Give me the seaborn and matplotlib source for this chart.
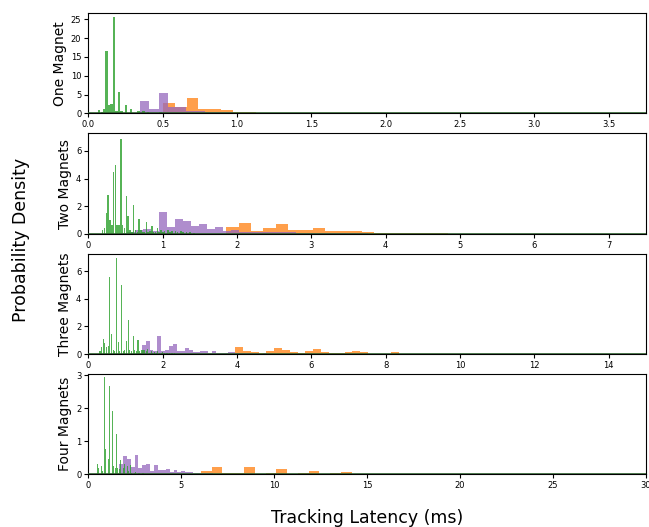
import numpy as np
import pandas as pd
import seaborn as sns
import matplotlib.pyplot as plt

# ---- valores ----
panel_names = ['One Magnet', 'Two Magnets', 'Three Magnets', 'Four Magnets']
x_max = [3.75, 7.5, 15, 30]
y_max = [26.6, 7.27, 7.27, 3.04]
x_ticks = [[0.0, 0.5, 1.0, 1.5, 2.0, 2.5, 3.0, 3.5],
           [0, 1, 2, 3, 4, 5, 6, 7],
           [0, 2, 4, 6, 8, 10, 12, 14],
           [0, 5, 10, 15, 20, 25, 30]]
x_ticklabels = [['0.0', '0.5', '1.0', '1.5', '2.0', '2.5', '3.0', '3.5'],
                ['0', '1', '2', '3', '4', '5', '6', '7'],
                ['0', '2', '4', '6', '8', '10', '12', '14'],
                ['0', '5', '10', '15', '20', '25', '30']]
y_ticks = [[0, 5, 10, 15, 20, 25], [0, 2, 4, 6], [0, 2, 4, 6], [0, 1, 2, 3]]

# orange series: first bin edge, bin width, heights
orange_start = [0.505, 1.856, 3.955, 6.06]
orange_width = [0.078, 0.166, 0.21, 0.58]
orange_h1 = [2.7, 1.6, 4.0, 1.3, 1.3, 0.8, 0.5, 0.5, 0.2, 0.15, 0.1, 0.1, 0.08,
             0.05, 0.05, 0.05, 0.05, 0.2, 0.05, 0.2]
orange_h2 = [0.48, 0.75, 0.2, 0.39, 0.68, 0.24, 0.24, 0.39, 0.2, 0.2, 0.2, 0.1,
             0.07, 0.07, 0.07, 0.07, 0.07, 0.07]
orange_h3 = [0.48, 0.19, 0.12, 0.05, 0.19, 0.46, 0.29, 0.12, 0.05, 0.19, 0.34,
             0.12, 0.05, 0.05, 0.12, 0.2, 0.12, 0.03, 0.03, 0.03, 0.12, 0.03]
orange_h4 = [0.1, 0.23, 0.03, 0.03, 0.23, 0.01, 0.03, 0.16, 0.01, 0.03, 0.1,
             0.01, 0.03, 0.07, 0.01, 0.01, 0.02]

# purple series
purple_start = [0.285, 0.305, 1.335, 1.44]
purple_width = [0.0625, 0.108, 0.105, 0.21]
purple_h1 = [0.2, 3.2, 1.2, 5.3, 1.8, 1.6, 0.7, 0.6, 0.5, 0.3, 0.25, 0.2, 0.2,
             0.15, 0.1, 0.1, 0.08, 0.08, 0.06, 0.05, 0.05, 0.04, 0.04]
purple_h2 = [0.0, 0.05, 0.1, 0.3, 0.32, 0.2, 1.55, 0.48, 1.04, 0.9, 0.53, 0.68,
             0.31, 0.46, 0.17, 0.24, 0.15, 0.15, 0.12, 0.15, 0.12, 0.1, 0.1,
             0.08, 0.08, 0.06, 0.05, 0.05, 0.04, 0.03, 0.03, 0.02]
purple_h3 = [0.1, 0.65, 0.97, 0.3, 0.25, 1.33, 0.2, 0.3, 0.6, 0.75, 0.2, 0.25,
             0.45, 0.3, 0.15, 0.15, 0.25, 0.25, 0.1, 0.2, 0.1, 0.1, 0.1, 0.15,
             0.15, 0.05, 0.05, 0.04, 0.05, 0.04, 0.04, 0.03, 0.04, 0.03]
purple_h4 = [0.05, 0.3, 0.54, 0.45, 0.22, 0.59, 0.2, 0.29, 0.32, 0.1, 0.27,
             0.13, 0.13, 0.16, 0.07, 0.12, 0.07, 0.1, 0.06, 0.07, 0.05, 0.04,
             0.04, 0.03, 0.03]

# green series (narrow, quantised)
green_start = [0.06575, 0.18175, 0.29275, 0.45325]
green_width = [0.0165, 0.0245, 0.0445, 0.0735]
green_h1 = [0.8, 0.3, 1.2, 16.6, 2.3, 2.6, 25.6, 0.7, 5.6, 0.7, 0.2, 2.3, 0.2,
            1.2, 0.1, 0.2, 0.7, 0.1, 0.6, 0.1, 0.3, 0.0, 0.2, 0.1, 0.0, 0.3,
            0.0, 0.2, 0.1, 0.0, 0.2, 0.0, 0.1, 0.2, 0.0, 0.1, 0.0, 0.1, 0.0,
            0.1, 0.1, 0.0, 0.1, 0.0, 0.05, 0.0, 0.05]
green_h2 = [0.3, 0.4, 1.5, 2.8, 1.0, 0.6, 4.5, 5.0, 0.6, 0.6, 6.9, 0.6, 0.4,
            2.75, 1.26, 0.3, 0.1, 2.1, 0.3, 0.1, 1.1, 0.3, 0.1, 0.1, 0.85, 0.1,
            0.2, 0.55, 0.1, 0.1, 0.4, 0.1, 0.3, 0.1, 0.2, 0.0, 0.3, 0.1, 0.2,
            0.0, 0.2, 0.1, 0.0, 0.2, 0.1, 0.0, 0.1, 0.0, 0.1, 0.0, 0.05]
green_h3 = [0.25, 0.5, 1.1, 0.8, 0.5, 0.6, 5.6, 1.45, 0.3, 0.2, 6.95, 0.9, 0.2,
            5.0, 0.2, 0.3, 0.92, 2.5, 0.3, 0.2, 1.28, 0.3, 0.2, 1.02, 0.2, 0.3,
            0.3, 0.3, 0.2, 0.36, 0.1, 0.2, 0.1, 0.15, 0.1, 0.2, 0.1, 0.1, 0.15,
            0.05, 0.1, 0.05, 0.1, 0.05, 0.05, 0.05]
green_h4 = [0.31, 0.2, 0.29, 0.25, 0.1, 2.94, 0.77, 0.3, 0.47, 2.69, 0.27, 1.93,
            0.25, 0.2, 1.22, 0.2, 0.15, 0.44, 0.45, 0.2, 0.3, 0.1, 0.25, 0.1,
            0.29, 0.05, 0.1, 0.05, 0.08, 0.05, 0.05, 0.04, 0.05, 0.03, 0.04]

orange_h = [orange_h1, orange_h2, orange_h3, orange_h4]
purple_h = [purple_h1, purple_h2, purple_h3, purple_h4]
green_h = [green_h1, green_h2, green_h3, green_h4]

C_ORANGE = '#ff7f0e'
C_PURPLE = '#9467bd'
C_GREEN = '#2ca02c'
GREEN_SHRINK = [0.95, 0.85, 0.65, 0.55]


def draw_hist(ax, start, width, heights, color, alpha, shrink=1.0):
    heights = list(heights)
    edges = start + width * np.arange(len(heights) + 1)
    df = pd.DataFrame({'x': edges[:-1] + width / 2, 'w': heights})
    sns.histplot(data=df, x='x', weights='w', bins=list(edges), stat='count',
                 color=color, alpha=alpha, linewidth=0, shrink=shrink, ax=ax)


fig, axes = plt.subplots(4, 1, figsize=(6.49, 5.27), dpi=100)
fig.subplots_adjust(left=0.136, right=0.995, top=0.975, bottom=0.1, hspace=0.2)

for i, ax in enumerate(axes):
    draw_hist(ax, orange_start[i], orange_width[i], orange_h[i], C_ORANGE, 0.75)
    draw_hist(ax, purple_start[i], purple_width[i], purple_h[i], C_PURPLE, 0.75)
    draw_hist(ax, green_start[i], green_width[i], green_h[i], C_GREEN, 0.8,
              shrink=GREEN_SHRINK[i])
    ax.axhline(0, color='#2f5f2f', lw=1.2, zorder=5)
    ax.set_xlim(0, x_max[i])
    ax.set_ylim(0, y_max[i])
    ax.set_xticks(x_ticks[i])
    ax.set_xticklabels(x_ticklabels[i])
    ax.set_yticks(y_ticks[i])
    ax.tick_params(labelsize=6, length=3, pad=2)
    ax.set_xlabel('')
    ax.set_ylabel(panel_names[i], fontsize=10, labelpad=3)

fig.supylabel('Probability Density', x=0.018, y=0.545, fontsize=12.5)
fig.supxlabel('Tracking Latency (ms)', x=0.566, y=0.0, fontsize=12.5)

plt.savefig('out.png', dpi=100)
